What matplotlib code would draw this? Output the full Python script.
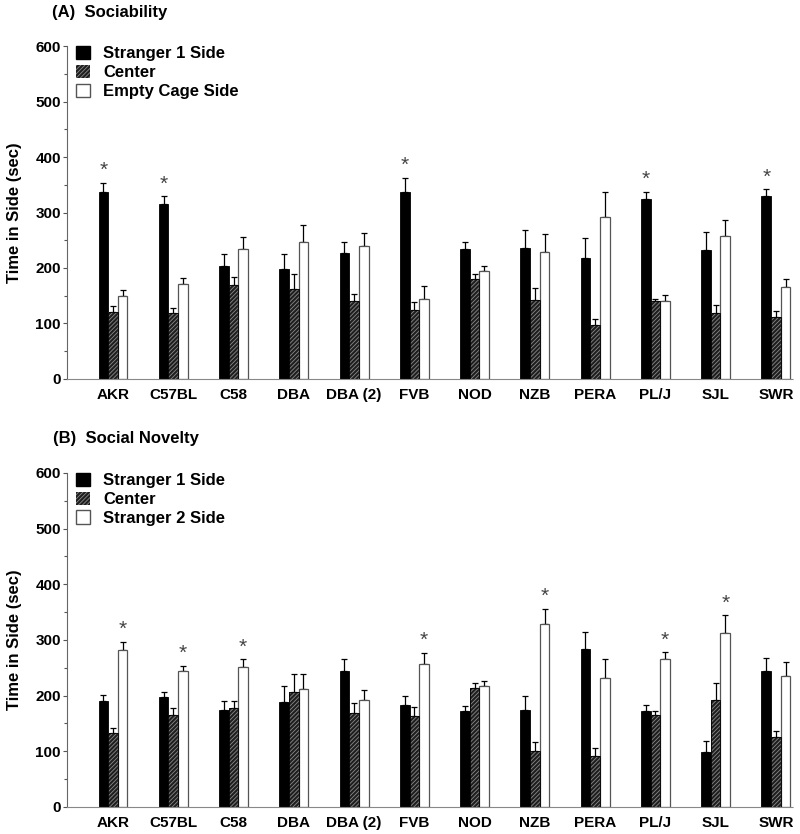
import matplotlib.pyplot as plt
import numpy as np
from matplotlib.ticker import MultipleLocator
from matplotlib.patches import Patch

plt.rcParams['font.family'] = ['Liberation Sans', 'DejaVu Sans']
plt.rcParams['font.weight'] = 'bold'
plt.rcParams['hatch.linewidth'] = 0.6

strains = ['AKR', 'C57BL', 'C58', 'DBA', 'DBA (2)', 'FVB', 'NOD', 'NZB',
           'PERA', 'PL/J', 'SJL', 'SWR']

# (A) Sociability
soc_stranger1 = [337, 315, 204, 199, 227, 337, 234, 236, 218, 324, 232, 330]
soc_stranger1_err = [16, 14, 22, 26, 20, 25, 12, 32, 36, 13, 33, 12]
soc_center = [121, 119, 169, 162, 140, 124, 180, 142, 97, 140, 119, 111]
soc_center_err = [11, 8, 15, 27, 13, 14, 9, 22, 11, 4, 15, 11]
soc_empty = [149, 172, 235, 246, 240, 145, 194, 229, 291, 141, 258, 166]
soc_empty_err = [11, 10, 21, 32, 23, 23, 10, 33, 46, 11, 29, 15]
soc_sig = ['AKR', 'C57BL', 'FVB', 'PL/J', 'SWR']  # stranger 1 > empty

# (B) Social Novelty
nov_stranger1 = [191, 197, 175, 188, 244, 184, 173, 175, 283, 173, 98, 244]
nov_stranger1_err = [11, 10, 15, 29, 22, 15, 9, 25, 31, 11, 20, 23]
nov_center = [132, 166, 178, 206, 169, 163, 214, 101, 91, 166, 193, 125]
nov_center_err = [9, 12, 12, 33, 17, 16, 9, 15, 15, 7, 30, 12]
nov_stranger2 = [282, 244, 252, 212, 193, 256, 218, 329, 232, 265, 313, 236]
nov_stranger2_err = [15, 10, 13, 26, 17, 21, 9, 27, 33, 13, 31, 24]
nov_sig = ['AKR', 'C57BL', 'C58', 'FVB', 'NZB', 'PL/J', 'SJL']  # stranger 2 > stranger 1

HATCH_FACE = '#1e1e1e'
HATCH_LINE = '#8a8a8a'
W = 0.16


def draw_panel(ax, series, errs, labels, sig, sig_idx):
    x = np.arange(len(strains))
    offsets = [-W, 0, W]
    for k, (vals, err) in enumerate(zip(series, errs)):
        xs = x + offsets[k]
        if k == 0:
            ax.bar(xs, vals, W, color='black', edgecolor='black', linewidth=0.6, zorder=2)
        elif k == 1:
            ax.bar(xs, vals, W, color=HATCH_FACE, edgecolor=HATCH_LINE,
                   hatch='////////', linewidth=0, zorder=2)
            ax.bar(xs, vals, W, fill=False, edgecolor='black', linewidth=0.6, zorder=3)
        else:
            ax.bar(xs, vals, W, color='white', edgecolor='#555555', linewidth=0.9, zorder=2)
        ax.errorbar(xs, vals, yerr=[np.zeros(len(vals)), err], fmt='none',
                    ecolor='black', elinewidth=0.9, capsize=2.2, capthick=0.9, zorder=1)
    # significance asterisks
    vals, err = series[sig_idx], errs[sig_idx]
    for name in sig:
        i = strains.index(name)
        ax.text(i + offsets[sig_idx], vals[i] + err[i] + 5, '*', ha='center',
                va='bottom', fontsize=15, color='#444444', fontweight='normal')

    ax.set_xlim(-0.76, 11.28)
    ax.set_ylim(0, 600)
    ax.set_xticks(x)
    ax.set_xticklabels(strains, fontsize=11, fontweight='bold')
    ax.tick_params(axis='x', length=0, pad=6.5)
    ax.yaxis.set_major_locator(MultipleLocator(100))
    ax.yaxis.set_minor_locator(MultipleLocator(50))
    ax.tick_params(axis='y', which='major', length=3, width=0.8, labelsize=11,
                   color='#555555', pad=1.5)
    ax.tick_params(axis='y', which='minor', length=2, width=0.8, color='#555555')
    for lbl in ax.get_yticklabels():
        lbl.set_fontweight('bold')
    ax.spines['top'].set_visible(False)
    ax.spines['right'].set_visible(False)
    ax.spines['left'].set_color('#666666')
    ax.spines['bottom'].set_color('#888888')
    ax.spines['bottom'].set_linestyle((0, (1, 1)))
    ax.set_ylabel('Time in Side (sec)', fontsize=12, fontweight='bold', labelpad=10)

    handles = [Patch(facecolor='black', edgecolor='black'),
               Patch(facecolor=HATCH_FACE, edgecolor=HATCH_LINE, hatch='////////', linewidth=0),
               Patch(facecolor='white', edgecolor='#555555')]
    ax.legend(handles, labels, loc='upper left', bbox_to_anchor=(0.0, 1.025), frameon=False,
              prop={'size': 12, 'weight': 'bold'}, handlelength=0.85, handleheight=0.85,
              handletextpad=0.8, labelspacing=0.2, borderaxespad=0.3, borderpad=0.2)


fig = plt.figure(figsize=(8, 8.34), dpi=100)
ax1 = fig.add_axes([0.084, 0.5456, 0.907, 0.3992])
ax2 = fig.add_axes([0.084, 0.0324, 0.907, 0.4005])

draw_panel(ax1, [soc_stranger1, soc_center, soc_empty],
           [soc_stranger1_err, soc_center_err, soc_empty_err],
           ['Stranger 1 Side', 'Center', 'Empty Cage Side'], soc_sig, 0)
draw_panel(ax2, [nov_stranger1, nov_center, nov_stranger2],
           [nov_stranger1_err, nov_center_err, nov_stranger2_err],
           ['Stranger 1 Side', 'Center', 'Stranger 2 Side'], nov_sig, 2)

fig.text(52 / 800, 1 - 13 / 834, '(A)  Sociability', fontsize=12, fontweight='bold', va='center')
fig.text(53 / 800, 1 - 439 / 834, '(B)  Social Novelty', fontsize=12, fontweight='bold', va='center')

fig.savefig('out.png', dpi=100)
